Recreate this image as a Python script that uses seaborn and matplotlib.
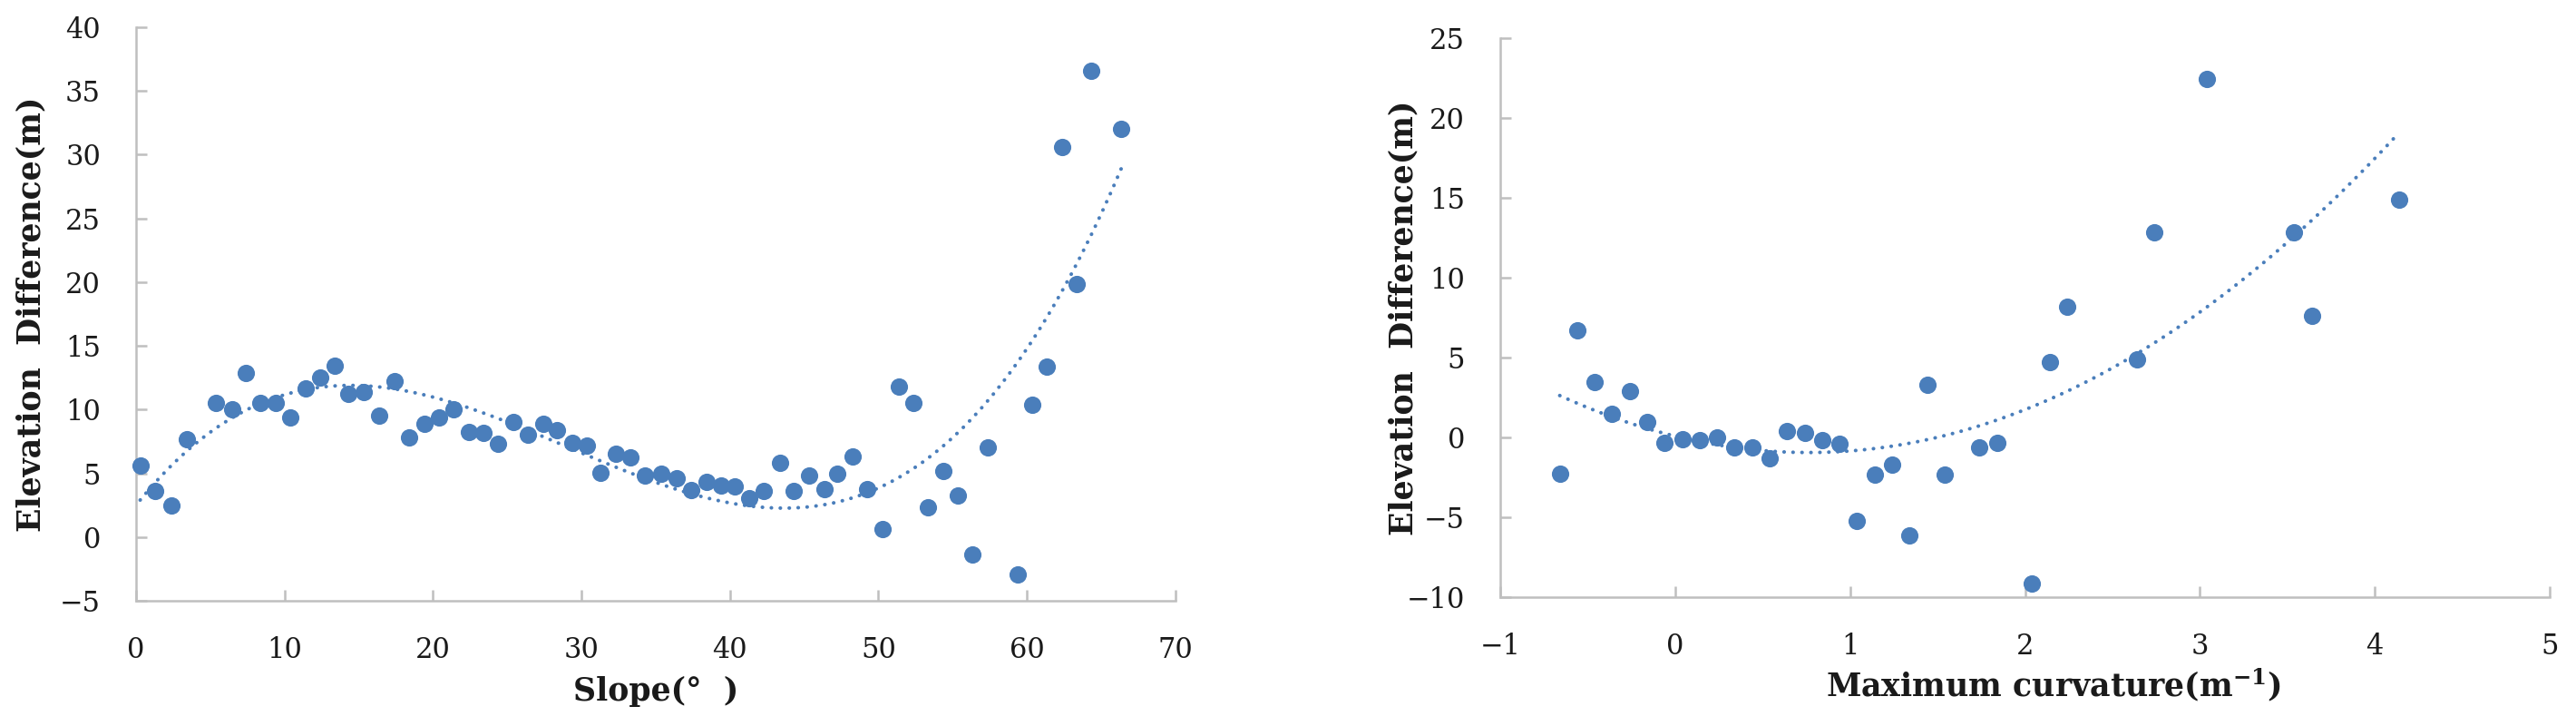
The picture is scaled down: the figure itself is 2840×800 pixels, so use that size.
import matplotlib
matplotlib.use("Agg")
import matplotlib.pyplot as plt
import seaborn as sns
import numpy as np
import pandas as pd

# ---------------- data ----------------
slope_x = [0.28, 1.26, 2.4, 3.4, 5.4, 6.45, 7.4, 8.4, 9.4, 10.4, 11.4, 12.4, 13.4, 14.3,
           15.35, 16.4, 17.4, 18.4, 19.4, 20.4, 21.4, 22.4, 23.4, 24.4, 25.4, 26.4, 27.4,
           28.35, 29.4, 30.35, 31.3, 32.3, 33.3, 34.3, 35.4, 36.4, 37.4, 38.4, 39.4, 40.3,
           41.3, 42.3, 43.4, 44.3, 45.3,
           46.35, 47.25, 48.25, 49.25, 50.25, 51.35, 52.35, 53.35, 54.35, 55.35, 56.35,
           57.35, 59.35, 60.35, 61.35, 62.35, 63.35, 64.35, 66.35]
slope_y = [5.6, 3.6, 2.45, 7.7, 10.5, 10.0, 12.85, 10.5, 10.5, 9.4, 11.65, 12.5, 13.45, 11.2,
           11.35, 9.5, 12.25, 7.85, 8.85, 9.4, 10.0, 8.25, 8.15, 7.35, 9.05, 8.0, 8.85,
           8.4, 7.4, 7.15, 5.05, 6.5, 6.25, 4.85, 5.0, 4.6, 3.7, 4.3, 4.05, 4.0,
           3.05, 3.6, 5.8, 3.6, 4.85,
           3.75, 5.0, 6.3, 3.75, 0.6, 11.8, 10.55, 2.35, 5.2, 3.25, -1.35,
           7.05, -2.95, 10.4, 13.4, 30.6, 19.85, 36.55, 32.0]

curv_x = [-0.66, -0.56, -0.46, -0.36, -0.26, -0.16, -0.06, 0.04, 0.14, 0.24, 0.34, 0.44,
          0.54, 0.64, 0.74, 0.84, 0.94, 1.04, 1.14, 1.24, 1.34, 1.44, 1.54, 1.74, 1.84,
          2.04, 2.14, 2.24, 2.64, 2.74, 3.04, 3.54, 3.64, 4.14]
curv_y = [-2.26, 6.67, 3.45, 1.5, 2.87, 0.99, -0.35, -0.09, -0.2, 0.0, -0.64, -0.64,
          -1.33, 0.38, 0.26, -0.2, -0.41, -5.25, -2.35, -1.71, -6.14, 3.28, -2.32, -0.64, -0.35,
          -9.16, 4.7, 8.2, 4.9, 12.84, 22.43, 12.84, 7.6, 14.9]

slope_xticks = [0, 10, 20, 30, 40, 50, 60, 70]
slope_yticks = [-5, 0, 5, 10, 15, 20, 25, 30, 35, 40]
curv_xticks = [-1, 0, 1, 2, 3, 4, 5]
curv_yticks = [-10, -5, 0, 5, 10, 15, 20, 25]

ylabel_txt = "Elevation  Difference(m)"
slope_label = "Slope(\u00b0  )"
curv_label = "Maximum curvature(m$^{\\mathbf{-1}}$)"

# ---------------- style ----------------
sns.set_theme(style="white")
plt.rcParams["font.family"] = ["DejaVu Serif"]
plt.rcParams["mathtext.fontset"] = "dejavuserif"

BLUE = "#4a7ebb"
GRAY = "#bfbfbf"
TXT = "#1a1a1a"

fig = plt.figure(figsize=(28.4, 8), dpi=100)
ax1 = fig.add_axes([0.0528, 0.1725, 0.4035, 0.79])
ax2 = fig.add_axes([0.5824, 0.1775, 0.4074, 0.7703])

panels = [
    (ax1, pd.DataFrame({"x": slope_x, "y": slope_y}), 3, slope_xticks, slope_yticks,
     slope_label, (0.5, -0.158), (-0.101, 0.5)),
    (ax2, pd.DataFrame({"x": curv_x, "y": curv_y}), 2, curv_xticks, curv_yticks,
     curv_label, (0.527, -0.157), (-0.0925, 0.5)),
]

for ax, df, order, xt, yt, xlab, xlc, ylc in panels:
    sns.regplot(data=df, x="x", y="y", ax=ax, order=order, ci=None, scatter=False,
                truncate=True,
                line_kws=dict(color=BLUE, lw=2.9, linestyle=(0, (0.05, 2.4)),
                              dash_capstyle="round", zorder=2))
    sns.scatterplot(data=df, x="x", y="y", ax=ax, s=190, color=BLUE, linewidth=0,
                    zorder=3, clip_on=False)
    ax.set_xlim(xt[0], xt[-1])
    ax.set_ylim(yt[0], yt[-1])
    ax.set_xticks(xt)
    ax.set_yticks(yt)
    for s in ["top", "right"]:
        ax.spines[s].set_visible(False)
    for s in ["left", "bottom"]:
        ax.spines[s].set_color(GRAY)
        ax.spines[s].set_linewidth(1.8)
    ax.tick_params(direction="in", length=8.5, width=1.8, color=GRAY,
                   labelsize=22, labelcolor=TXT, pad=28,
                   bottom=True, left=True)
    ax.set_xlabel(xlab, fontsize=25, fontweight="bold", color=TXT, va="center")
    ax.set_ylabel(ylabel_txt, fontsize=25, fontweight="bold", color=TXT, va="center")
    ax.xaxis.set_label_coords(*xlc)
    ax.yaxis.set_label_coords(*ylc)
    ax.grid(False)

fig.savefig("out.png", dpi=100, facecolor="white")
